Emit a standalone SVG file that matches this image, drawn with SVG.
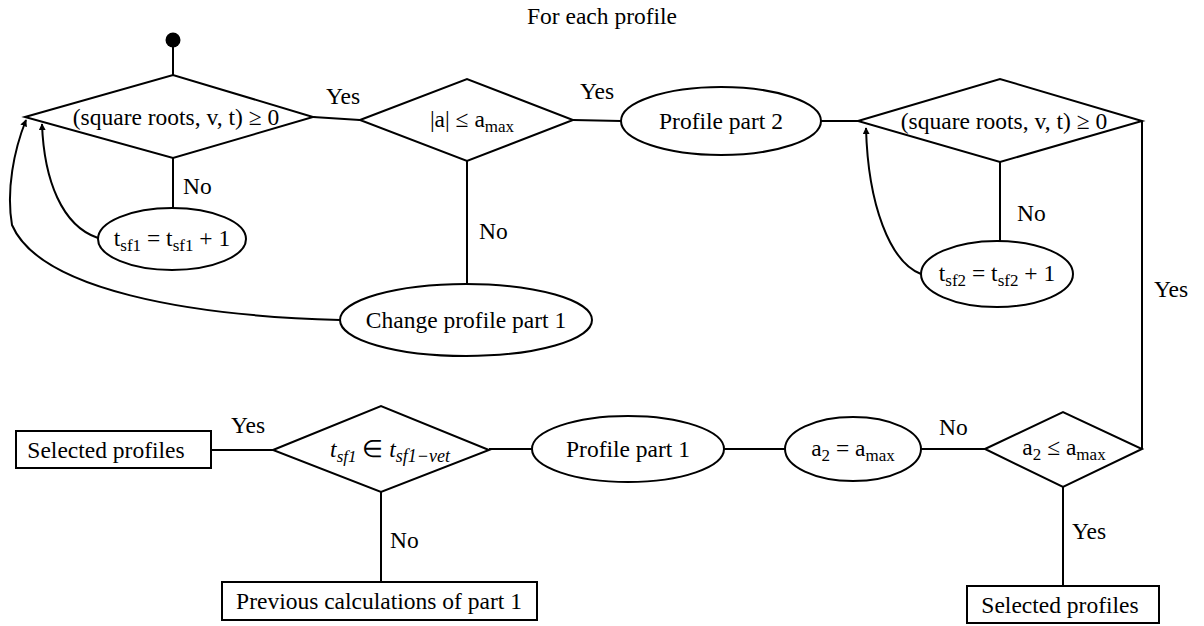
<svg xmlns="http://www.w3.org/2000/svg" width="1204" height="626" viewBox="0 0 1204 626">
<style>
.s{fill:#fff;stroke:#000;stroke-width:2}
.c{fill:none;stroke:#000;stroke-width:2}
text{font-family:"Liberation Serif","Times New Roman",serif;font-size:23.5px;fill:#000}
.m{text-anchor:middle}
.sb{font-size:17px}
</style>
<defs>
<marker id="ah" viewBox="0 0 10 10" refX="9" refY="5" markerWidth="7" markerHeight="7" markerUnits="userSpaceOnUse" orient="auto">
<path d="M0,0 L10,5 L0,10 z" fill="#000"/>
</marker>
</defs>
<text class="m" x="602" y="24">For each profile</text>
<g id="connectors">
<line class="c" x1="173" y1="47" x2="173" y2="75"/>
<line class="c" x1="313" y1="117" x2="360" y2="120"/>
<line class="c" x1="173" y1="158" x2="173" y2="208"/>
<line class="c" x1="467" y1="161" x2="467" y2="284"/>
<line class="c" x1="573" y1="120" x2="621" y2="121"/>
<line class="c" x1="821" y1="121" x2="858" y2="121"/>
<line class="c" x1="1000" y1="162" x2="1000" y2="241"/>
<polyline class="c" points="1142,121 1142,449"/>
<line class="c" x1="1063" y1="487" x2="1063" y2="586"/>
<line class="c" x1="985" y1="449" x2="921" y2="449"/>
<line class="c" x1="785" y1="449" x2="724" y2="449"/>
<line class="c" x1="532" y1="449" x2="489" y2="449"/>
<line class="c" x1="273" y1="450" x2="212" y2="450"/>
<line class="c" x1="381" y1="492" x2="381" y2="582"/>
<path class="c" d="M98,238 C62,226 44,180 42,124" marker-end="url(#ah)"/>
<path class="c" d="M340,320 C190,316 40,290 12,225 C6,190 14,150 26,120" marker-end="url(#ah)"/>
<path class="c" d="M921,274 C890,262 868,205 866,128" marker-end="url(#ah)"/>
<text x="326" y="104">Yes</text>
<text x="580" y="99">Yes</text>
<text x="183" y="194">No</text>
<text x="479" y="239">No</text>
<text x="1017" y="221">No</text>
<text x="1154" y="297">Yes</text>
<text x="939" y="435">No</text>
<text x="1072" y="539">Yes</text>
<text x="231" y="433">Yes</text>
<text x="390" y="548">No</text>
</g>
<g id="start"><circle cx="173" cy="40" r="7.5" fill="#000"/></g>
<g id="d1">
<polygon class="s" points="25,117 173,75 313,117 173,158"/>
<text class="m" x="176" y="125">(square roots, v, t) ≥ 0</text>
</g>
<g id="d2">
<polygon class="s" points="360,120 467,79 573,120 467,161"/>
<text class="m" x="472" y="127">|a| ≤ a<tspan class="sb" dy="5">max</tspan></text>
</g>
<g id="e_tsf1">
<ellipse class="s" cx="172" cy="239" rx="74" ry="31"/>
<text class="m" x="172" y="246">t<tspan class="sb" dy="5">sf1</tspan><tspan dy="-5"> = t</tspan><tspan class="sb" dy="5">sf1</tspan><tspan dy="-5"> + 1</tspan></text>
</g>
<g id="e_change">
<ellipse class="s" cx="466" cy="320" rx="126" ry="36"/>
<text class="m" x="466" y="328">Change profile part 1</text>
</g>
<g id="e_p2">
<ellipse class="s" cx="721" cy="121" rx="100" ry="34"/>
<text class="m" x="721" y="129">Profile part 2</text>
</g>
<g id="d3">
<polygon class="s" points="858,121 1000,79 1142,121 1000,162"/>
<text class="m" x="1004" y="129">(square roots, v, t) ≥ 0</text>
</g>
<g id="e_tsf2">
<ellipse class="s" cx="997" cy="274" rx="76" ry="33"/>
<text class="m" x="997" y="281">t<tspan class="sb" dy="5">sf2</tspan><tspan dy="-5"> = t</tspan><tspan class="sb" dy="5">sf2</tspan><tspan dy="-5"> + 1</tspan></text>
</g>
<g id="d4">
<polygon class="s" points="985,449 1063,412 1142,449 1063,487"/>
<text class="m" x="1064" y="455">a<tspan class="sb" dy="5">2</tspan><tspan dy="-5"> ≤ a</tspan><tspan class="sb" dy="5">max</tspan></text>
</g>
<g id="sel2">
<rect class="s" x="967" y="586" width="192" height="37"/>
<text class="m" x="1060" y="613">Selected profiles</text>
</g>
<g id="e_amax">
<ellipse class="s" cx="853" cy="449" rx="68" ry="32"/>
<text class="m" x="853" y="456">a<tspan class="sb" dy="5">2</tspan><tspan dy="-5"> = a</tspan><tspan class="sb" dy="5">max</tspan></text>
</g>
<g id="e_p1">
<ellipse class="s" cx="628" cy="449" rx="96" ry="33"/>
<text class="m" x="628" y="457">Profile part 1</text>
</g>
<g id="d5">
<polygon class="s" points="273,450 381,406 489,450 381,492"/>
<text class="m" x="390" y="457" font-style="italic" font-size="25">t<tspan class="sb" dy="5" font-size="18">sf1</tspan><tspan dy="-5" font-style="normal"> ∈ </tspan><tspan>t</tspan><tspan dy="5" font-size="18">sf1−vet</tspan></text>
</g>
<g id="sel1">
<rect class="s" x="16" y="431" width="195" height="37"/>
<text class="m" x="106" y="458">Selected profiles</text>
</g>
<g id="prev">
<rect class="s" x="222" y="582" width="315" height="38"/>
<text class="m" x="379" y="609">Previous calculations of part 1</text>
</g>
</svg>
